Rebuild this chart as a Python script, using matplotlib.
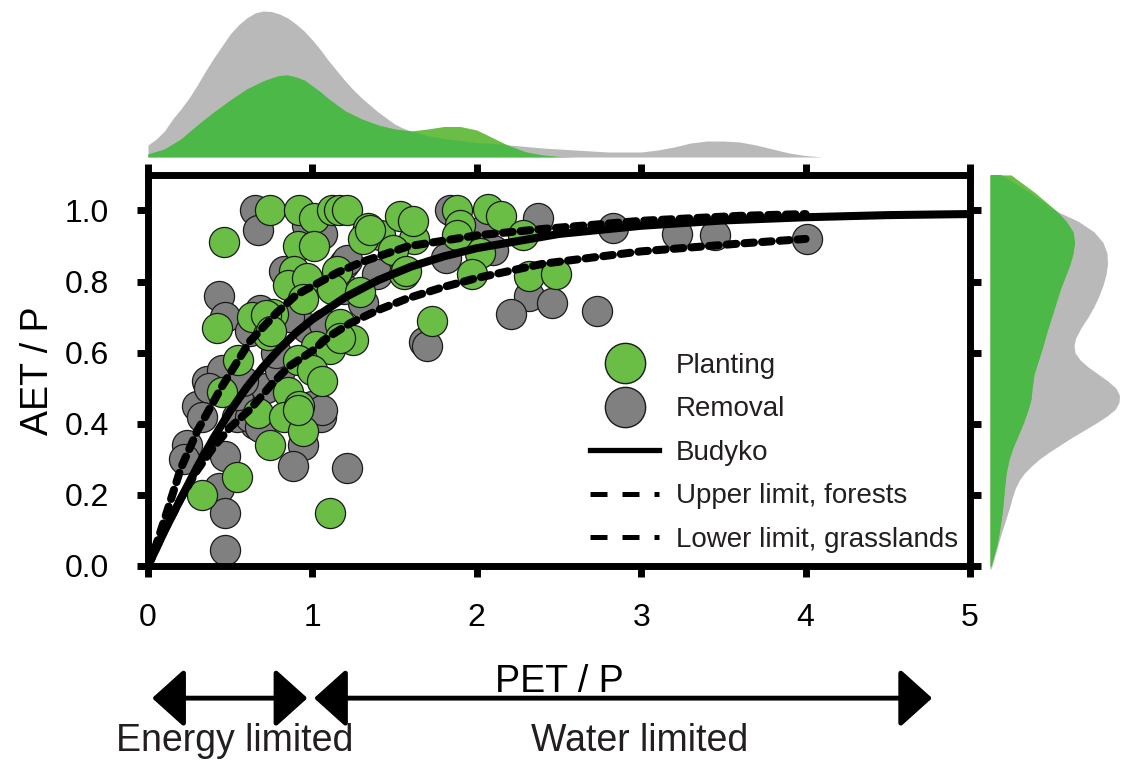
import matplotlib.pyplot as plt
from matplotlib.lines import Line2D

plt.rcParams['font.family'] = ['Liberation Sans', 'DejaVu Sans']

# scatter points (PET/P, AET/P)
green_x = [0.46, 0.42, 0.74, 0.92, 1.01, 1.12, 1.16, 1.21, 0.91, 1.01, 0.63, 0.89, 0.85, 0.97,
           0.94, 1.15, 1.12, 0.76, 0.73, 1.17, 1.02, 1.11, 0.91, 1.00, 1.06, 0.55, 0.45, 0.54,
           0.33, 0.67, 0.85, 0.83, 0.94, 0.92, 0.74, 1.11, 1.25, 1.73, 1.34, 1.41, 1.31, 1.62,
           1.49, 1.56, 1.29, 1.53, 1.61, 1.88, 1.90, 2.07, 2.15, 2.28, 2.02, 1.88, 1.97, 2.32,
           2.48, 1.35, 1.57, 0.72, 0.75, 1.17, 0.91]
green_y = [0.91, 0.67, 1.00, 1.00, 0.98, 1.00, 1.00, 1.00, 0.90, 0.90, 0.70, 0.83, 0.79, 0.81,
           0.75, 0.83, 0.78, 0.71, 0.65, 0.68, 0.62, 0.61, 0.58, 0.55, 0.52, 0.58, 0.49, 0.25,
           0.20, 0.43, 0.49, 0.42, 0.38, 0.45, 0.34, 0.15, 0.635, 0.69, 0.95, 0.93, 0.92, 0.92,
           0.89, 0.82, 0.77, 0.985, 0.97, 1.00, 0.96, 1.005, 0.985, 0.93, 0.88, 0.93, 0.82, 0.815,
           0.82, 0.945, 0.83, 0.705, 0.66, 0.64, 0.44]

gray_x = [0.65, 0.67, 0.97, 1.06, 0.43, 0.47, 0.68, 0.83, 1.19, 0.97, 0.86, 0.36, 0.45, 0.30,
          0.24, 0.47, 0.43, 0.47, 0.47, 1.05, 0.94, 0.88, 0.65, 1.21, 0.54, 0.37, 1.68, 1.70,
          1.39, 1.21, 1.84, 2.37, 2.02, 2.10, 1.81, 2.32, 2.46, 2.21, 2.83, 3.22, 3.45, 4.01,
          2.73, 1.31, 0.62, 0.68, 1.00, 1.06, 0.62, 1.07, 1.19, 0.55, 0.72, 0.80, 0.33, 0.58,
          0.78, 0.22]
gray_y = [1.00, 0.944, 0.96, 0.935, 0.76, 0.70, 0.72, 0.83, 0.85, 0.67, 0.70, 0.52, 0.55, 0.45,
          0.34, 0.31, 0.22, 0.15, 0.045, 0.42, 0.34, 0.28, 0.40, 0.275, 0.42, 0.50, 0.63, 0.62,
          0.82, 0.86, 1.00, 0.98, 0.94, 0.89, 0.865, 0.76, 0.74, 0.71, 0.95, 0.935, 0.93, 0.92,
          0.716, 0.74, 0.42, 0.39, 0.45, 0.44, 0.66, 0.68, 0.78, 0.48, 0.50, 0.55, 0.42, 0.52,
          0.60, 0.30]

# reference curves
budyko_x = [0.0, 0.05, 0.1, 0.2, 0.3, 0.4, 0.5, 0.6, 0.7, 0.8, 0.9, 1.0, 1.2, 1.4, 1.6, 1.8,
            2.0, 2.5, 3.0, 3.5, 4.0, 4.5, 5.0]
budyko_y = [0.0, 0.049, 0.098, 0.19, 0.279, 0.361, 0.436, 0.502, 0.56, 0.611, 0.656, 0.694,
            0.756, 0.804, 0.842, 0.871, 0.894, 0.934, 0.957, 0.972, 0.981, 0.987, 0.99]
upper_x = [0.0, 0.05, 0.1, 0.2, 0.3, 0.45, 0.62, 0.78, 0.9, 1.15, 1.3, 1.58, 2.0, 2.4, 3.0,
           3.6, 4.0]
upper_y = [0.0, 0.06, 0.13, 0.275, 0.38, 0.505, 0.632, 0.711, 0.762, 0.825, 0.855, 0.899,
           0.93, 0.948, 0.971, 0.985, 0.99]
lower_x = [0.0, 0.05, 0.1, 0.2, 0.3, 0.4, 0.5, 0.62, 0.76, 0.86, 1.0, 1.1, 1.23, 1.4, 1.58,
           1.8, 2.0, 2.4, 3.0, 3.6, 4.0]
lower_y = [0.0, 0.05, 0.1, 0.19, 0.27, 0.335, 0.39, 0.44, 0.515, 0.562, 0.605, 0.645, 0.683,
           0.72, 0.753, 0.785, 0.81, 0.85, 0.885, 0.907, 0.92]

# marginal densities (relative heights)
top_gray_x = [0.0, 0.05, 0.1, 0.15, 0.2, 0.25, 0.3, 0.35, 0.4, 0.45, 0.5, 0.55, 0.6, 0.65,
              0.7, 0.75, 0.8, 0.85, 0.9, 0.95, 1.0, 1.05, 1.1, 1.15, 1.2, 1.25, 1.3, 1.35, 1.4,
              1.45, 1.5, 1.55, 1.6, 1.7, 1.8, 1.9, 2.0, 2.2, 2.4, 2.6, 2.8, 3.0, 3.1, 3.2, 3.3,
              3.4, 3.5, 3.6, 3.7, 3.8, 3.9, 4.0, 4.1]
top_gray_h = [12, 18, 26, 38, 48, 59, 72, 86, 99, 111, 123, 132, 139, 144, 146, 145.5, 143,
              139, 133, 126, 117, 107, 96, 86, 76, 67, 59, 52, 45, 39, 33, 29, 26, 21, 18, 16,
              14, 12, 9, 7, 5, 5, 7, 10, 14, 16, 16, 15, 12, 8, 4, 1.5, 0]
top_green_x = [0.0, 0.1, 0.2, 0.3, 0.4, 0.5, 0.6, 0.7, 0.75, 0.8, 0.85, 0.9, 0.95, 1.0, 1.05,
               1.1, 1.15, 1.2, 1.3, 1.4, 1.5, 1.6, 1.7, 1.8, 1.9, 2.0, 2.1, 2.2, 2.3, 2.4,
               2.5, 2.6]
top_green_h = [3, 8, 18, 32, 45, 57, 68, 76, 79, 81.5, 82, 80, 77, 71, 65, 58, 52, 46, 38, 32,
               28, 26, 28, 30.5, 30.5, 27, 19, 11, 5, 2, 0.5, 0]
right_gray_y = [1.10, 1.05, 1.0, 0.97, 0.94, 0.91, 0.88, 0.85, 0.82, 0.79, 0.76, 0.73, 0.70,
                0.67, 0.64, 0.62, 0.60, 0.58, 0.56, 0.54, 0.52, 0.50, 0.48, 0.46, 0.44, 0.42,
                0.40, 0.38, 0.36, 0.34, 0.32, 0.30, 0.28, 0.26, 0.24, 0.22, 0.20, 0.16, 0.12,
                0.08, 0.04, 0.0, -0.01]
right_gray_w = [11, 40, 65, 88, 104, 113, 117, 117.5, 116, 113, 109, 104, 98, 91, 85.5, 84,
                85, 90, 98, 108, 118, 126, 129.5, 129, 125, 116, 105, 93, 81, 70, 59, 49, 41,
                34, 29, 25.5, 23, 19, 14.5, 10, 6, 2, 0.5]
right_green_y = [1.10, 1.05, 1.0, 0.97, 0.94, 0.91, 0.88, 0.85, 0.82, 0.78, 0.74, 0.70, 0.66,
                 0.62, 0.58, 0.54, 0.50, 0.47, 0.44, 0.40, 0.36, 0.33, 0.30, 0.26, 0.22, 0.16,
                 0.10, 0.06, 0.02, 0.0]
right_green_w = [21, 45, 66, 76, 83, 84.5, 83, 80, 76, 70.5, 66, 61.5, 57, 53, 48.5, 44, 42,
                 41, 38, 33, 27, 22.5, 19, 16, 14.5, 12.5, 9.5, 7, 3, 1]

GREEN = '#6abd45'
DARK_GREEN = '#4cb848'
GRAY = '#808080'
LIGHT_GRAY = '#b9b9b9'
TEXT = '#231f20'

fig = plt.figure(figsize=(11.22, 7.6), dpi=100)
ax = fig.add_axes([0.1319, 0.2553, 0.7326, 0.5145])
ax_top = fig.add_axes([0.1319, 0.7934, 0.7326, 0.2066])
ax_right = fig.add_axes([0.8824, 0.2553, 0.1176, 0.5145])

# main scatter
ax.scatter(gray_x, gray_y, s=470, c=GRAY, edgecolors='#1a1a1a', linewidths=0.9, zorder=2)
ax.scatter(green_x, green_y, s=470, c=GREEN, edgecolors='#1a1a1a', linewidths=0.9, zorder=2.5)

ax.plot(budyko_x, budyko_y, color='k', lw=5.8, solid_capstyle='round', zorder=3)
ax.plot(upper_x, upper_y, color='k', lw=5.8, dashes=(1.2, 1.0), dash_capstyle='round', zorder=3)
ax.plot(lower_x, lower_y, color='k', lw=5.8, dashes=(1.2, 1.0), dash_capstyle='round', zorder=3)

ax.set_xlim(0, 5)
ax.set_ylim(0, 1.1)
ax.set_xticks([0, 1, 2, 3, 4, 5])
ax.set_yticks([0.0, 0.2, 0.4, 0.6, 0.8, 1.0])
ax.set_yticklabels(['0.0', '0.2', '0.4', '0.6', '0.8', '1.0'])
for sp in ax.spines.values():
    sp.set_linewidth(5)
ax.tick_params(direction='out', length=8, width=5, top=True, right=True, labelsize=23,
               colors='k', labelcolor='k')
ax.tick_params(axis='x', pad=19)
ax.tick_params(axis='y', pad=20)
ax.set_xlabel('PET / P', fontsize=27, labelpad=22)
ax.set_ylabel('AET / P', fontsize=27, labelpad=6)

handles = [
    Line2D([], [], ls='none', marker='o', markersize=29, mfc=GREEN, mec='#1a1a1a', mew=1),
    Line2D([], [], ls='none', marker='o', markersize=29, mfc=GRAY, mec='#1a1a1a', mew=1),
    Line2D([], [], color='k', lw=3.8),
    Line2D([], [], color='k', lw=3.6, dashes=(3.4, 3.0)),
    Line2D([], [], color='k', lw=3.6, dashes=(3.4, 3.0)),
]
labels = ['Planting', 'Removal', 'Budyko', 'Upper limit, forests', 'Lower limit, grasslands']
leg = ax.legend(handles, labels, loc='upper left', bbox_to_anchor=(0.5377, 0.545),
                frameon=False, fontsize=20, handlelength=2.5, handletextpad=0.6,
                labelspacing=0.63, borderpad=0, borderaxespad=0)
for t in leg.get_texts():
    t.set_color(TEXT)

# regime arrows
arrow_kw = dict(arrowstyle='<|-|>,head_length=1.0,head_width=0.9', color='k', lw=3.5,
                mutation_scale=20, shrinkA=0, shrinkB=0)
ax.annotate('', xy=(0.97, -0.338), xytext=(0.025, -0.338), xycoords=ax.get_xaxis_transform(),
            arrowprops=arrow_kw, annotation_clip=False)
ax.annotate('', xy=(4.77, -0.338), xytext=(1.01, -0.338), xycoords=ax.get_xaxis_transform(),
            arrowprops=arrow_kw, annotation_clip=False)
ax.text(0.53, -0.448, 'Energy limited', fontsize=27, ha='center', va='center', color=TEXT,
        transform=ax.get_xaxis_transform())
ax.text(2.99, -0.448, 'Water limited', fontsize=27, ha='center', va='center', color=TEXT,
        transform=ax.get_xaxis_transform())

# top marginal density
g_top = ax_top.fill_between(top_gray_x, 0, top_gray_h, color=LIGHT_GRAY, lw=0)
ax_top.fill_between(top_green_x, 0, top_green_h, color=GREEN, lw=0)
dark = ax_top.fill_between(top_green_x, 0, top_green_h, color=DARK_GREEN, lw=0)
dark.set_clip_path(g_top.get_paths()[0], ax_top.transData)
ax_top.set_xlim(0, 5)
ax_top.set_ylim(0, 157)
ax_top.axis('off')

# right marginal density
g_right = ax_right.fill_betweenx(right_gray_y, 0, right_gray_w, color=LIGHT_GRAY, lw=0,
                                 clip_on=False)
ax_right.fill_betweenx(right_green_y, 0, right_green_w, color=GREEN, lw=0, clip_on=False)
dark_r = ax_right.fill_betweenx(right_green_y, 0, right_green_w, color=DARK_GREEN, lw=0)
dark_r.set_clip_path(g_right.get_paths()[0], ax_right.transData)
ax_right.set_xlim(0, 132)
ax_right.set_ylim(0, 1.1)
ax_right.axis('off')

fig.savefig('out.png', dpi=100)
